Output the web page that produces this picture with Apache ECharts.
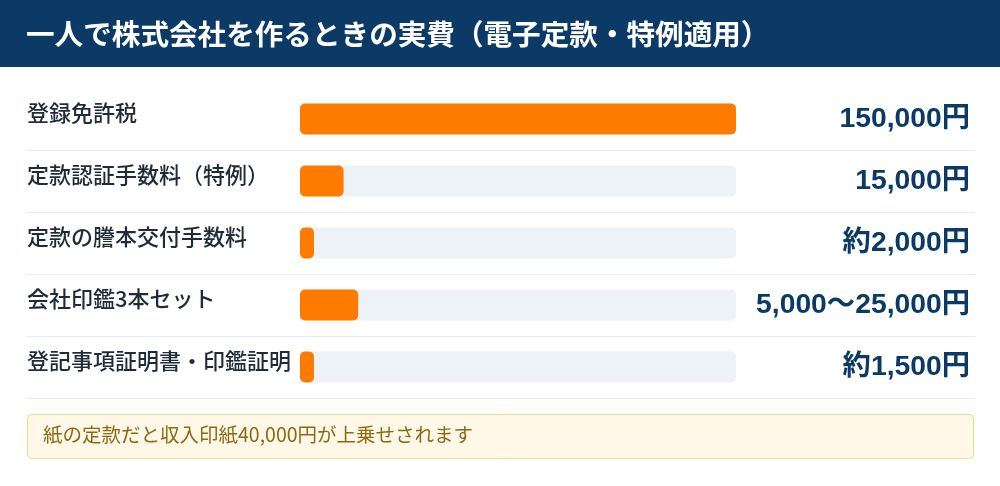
<!DOCTYPE html>
<html><head><meta charset="utf-8">
<script src="https://cdn.jsdelivr.net/npm/echarts@6/dist/echarts.min.js"></script>
<style>html,body{margin:0;padding:0;background:#fff}#c{width:1000px;height:486px}</style>
</head><body><div id="c"></div>
<script>
const titleText = '一人で株式会社を作るときの実費（電子定款・特例適用）';
const categories = ['登録免許税', '定款認証手数料（特例）', '定款の謄本交付手数料', '会社印鑑3本セット', '登記事項証明書・印鑑証明'];
const barValues = [150000, 15000, 2000, 20000, 1500];
const valueLabels = ['150,000円', '15,000円', '約2,000円', '5,000〜25,000円', '約1,500円'];
const axisMax = 150000;
const noteText = '紙の定款だと収入印紙40,000円が上乗せされます';

const FONT = '"Noto Sans CJK JP", "Noto Sans", sans-serif';
const NUMFONT = '"Liberation Sans", "Noto Sans CJK JP", sans-serif';
const chart = echarts.init(document.getElementById('c'), null, {renderer: 'canvas'});

const option = {
  animation: false,
  backgroundColor: '#ffffff',
  title: {
    text: titleText, left: 26, top: 20, padding: 0,
    textStyle: {color: '#ffffff', fontSize: 28.6, fontWeight: 'bold', fontFamily: FONT}
  },
  grid: {left: 300, right: 264, top: 88, bottom: 88, containLabel: false},
  xAxis: {type: 'value', min: 0, max: axisMax, show: false},
  yAxis: [{
    type: 'category', data: categories, inverse: true,
    axisLine: {show: false}, axisTick: {show: false}, splitLine: {show: false},
    axisLabel: {align: 'left', margin: 273, color: '#1f2b38', fontSize: 22, fontWeight: 500, fontFamily: FONT,
      verticalAlign: 'bottom', lineHeight: 12}
  }, {
    type: 'category', data: valueLabels, inverse: true, position: 'right',
    axisLine: {show: false}, axisTick: {show: false}, splitLine: {show: false},
    axisLabel: {align: 'right', margin: 234, color: '#0b3a66', fontSize: 28.3, fontWeight: 'bold', fontFamily: NUMFONT,
      verticalAlign: 'middle', padding: [0, 0, 10, 0]}
  }],
  series: [{
    type: 'bar', data: barValues, barWidth: 31, barMinHeight: 14,
    itemStyle: {color: '#ff7b00', borderRadius: 5},
    showBackground: true,
    backgroundStyle: {color: '#edf2f7', borderRadius: 5}
  }],
  graphic: []
};
chart.setOption(option);

// separators derived from the category scale
const gfx = [{
  type: 'rect', z: -1, shape: {x: 0, y: 0, width: 1000, height: 67}, style: {fill: '#0b3a67'}
}];
const ys = categories.map((c, i) => chart.convertToPixel({yAxisIndex: 0}, i));
const band = ys[1] - ys[0];
for (let i = 0; i < categories.length; i++) {
  const y = Math.round(ys[i] + band / 2) + 0.5;
  gfx.push({type: 'line', shape: {x1: 27, y1: y, x2: 975, y2: y}, style: {stroke: '#e6ebf2', lineWidth: 1}});
}
const lastY = ys[ys.length - 1] + band / 2;
gfx.push({
  type: 'rect', shape: {x: 27.5, y: lastY + 16.5, width: 946, height: 44, r: 4},
  style: {fill: '#fff8e8', stroke: '#f1da8c', lineWidth: 1}
});
gfx.push({
  type: 'text', x: 43, y: lastY + 36.5,
  style: {text: noteText, fill: '#8a6b12', fontSize: 19.5, fontFamily: FONT, verticalAlign: 'middle'}
});
chart.setOption({graphic: gfx});
</script></body></html>
